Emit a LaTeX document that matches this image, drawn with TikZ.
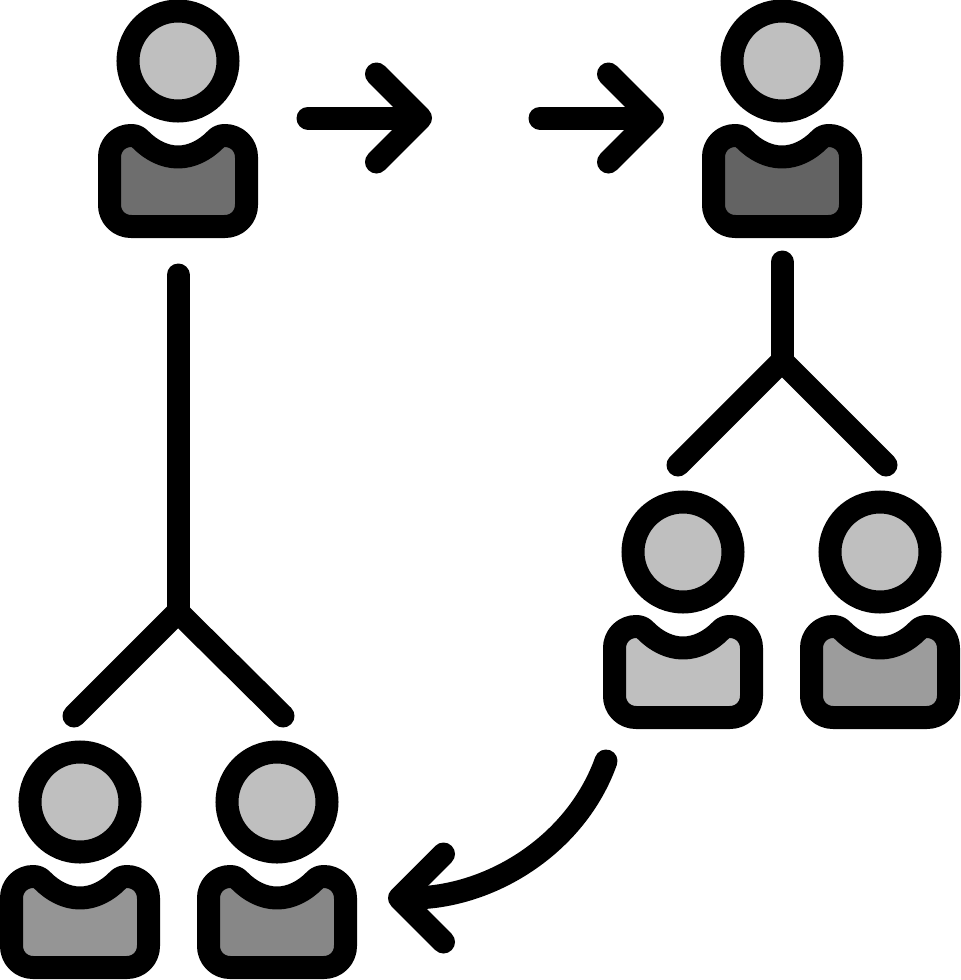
\documentclass[tikz,border=0pt]{standalone}
\usepackage{tikz}
\usetikzlibrary{arrows.meta, positioning}
\definecolor{headgray}{HTML}{BFBFBF}
\definecolor{bossGray}{HTML}{6E6E6E}
\definecolor{peerGray}{HTML}{636363}
\definecolor{teamAGray}{HTML}{BFBFBF}
\definecolor{teamBGray}{HTML}{9C9C9C}
\definecolor{teamCGray}{HTML}{959595}
\definecolor{teamDGray}{HTML}{878787}
% one person: name, x, y
\newcommand{\person}[3]{
  \begin{scope}[shift={(#2, #3)}]
    \node[Head] (#1) at(0, 0) {};
    \draw[Body, fill=#1Gray]
      (-68.5, 96) .. controls (-68.5, 84) and (-59, 74.5) .. (-47, 74.5)
      .. controls (-42, 74.5) and (-40, 76) .. (-37, 79)
      .. controls (-27, 89) and (-14, 96) .. (0, 96)
      .. controls (14, 96) and (27, 89) .. (37, 79)
      .. controls (40, 76) and (42, 74.5) .. (47, 74.5)
      .. controls (59, 74.5) and (68.5, 84) .. (68.5, 96)
      -- (68.5, 144) .. controls (68.5, 156) and (59, 165.5) .. (47, 165.5)
      -- (-47, 165.5) .. controls (-59, 165.5) and (-68.5, 156) .. (-68.5, 144)
      -- cycle;
  \end{scope}
}
\begin{document}
\begin{tikzpicture}
  [
    x=0.5pt, y=-0.5pt,
    Head/.style={circle, draw=black, fill=headgray, line width=11.5pt, minimum size=50pt, inner sep=0pt},
    Body/.style={draw=black, line width=11.5pt, line join=round},
    Line/.style={draw=black, line width=11.5pt, line cap=round, line join=round},
    Arrow/.style={Line, -{Straight Barb[length=22pt, width=44pt, round]}}
  ]
  \useasboundingbox (0, 0) rectangle (960, 980);
  % Persons
  \person{boss}{178}{61}
  \person{peer}{782}{61}
  \person{teamA}{683}{552}
  \person{teamB}{880}{552}
  \person{teamC}{80}{802}
  \person{teamD}{277}{802}
  % Free ends
  \coordinate (a1) at(308, 118);
  \coordinate (a2) at(432, 118);
  \coordinate (b1) at(540, 118);
  \coordinate (b2) at(664, 118);
  \coordinate (leftTop) at(178, 275);
  \coordinate (leftFork) at(178, 612);
  \coordinate (leftA) at(74, 716);
  \coordinate (leftB) at(283, 716);
  \coordinate (rightTop) at(782, 262);
  \coordinate (rightFork) at(782, 361);
  \coordinate (rightA) at(678, 465);
  \coordinate (rightB) at(886, 465);
  \coordinate (c1) at(606, 761);
  \coordinate (c2) at(388, 898);
  % Lines
  \path [Arrow] (a1) -- (a2);
  \path [Arrow] (b1) -- (b2);
  \path [Arrow] (c1) .. controls (576, 845) and (490, 898) .. (c2);
  \path [Line] (leftTop) -- (leftFork);
  \path [Line] (leftA) -- (leftFork) -- (leftB);
  \path [Line] (rightTop) -- (rightFork);
  \path [Line] (rightA) -- (rightFork) -- (rightB);
\end{tikzpicture}
\end{document}
